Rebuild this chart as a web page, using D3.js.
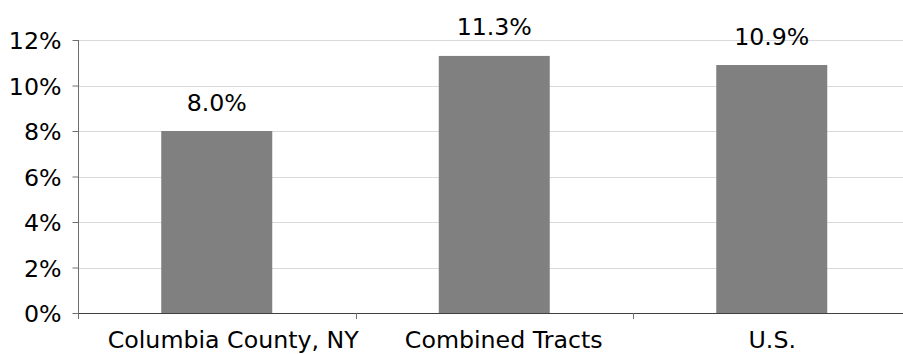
<!DOCTYPE html>
<html>
<head>
<meta charset="utf-8">
<script src="https://cdn.jsdelivr.net/npm/d3@7"></script>
<style>
  html, body { margin: 0; padding: 0; background: #fff; }
  svg { display: block; }
  text { font-family: "DejaVu Sans", sans-serif; fill: #000; }
</style>
</head>
<body>
<svg id="chart" width="903" height="354"></svg>
<script>
const categories = ["Columbia County, NY", "Combined Tracts", "U.S."];
const values = [8.0, 11.3, 10.9];
const valueLabels = ["8.0%", "11.3%", "10.9%"];
const yTicks = [0, 2, 4, 6, 8, 10, 12];
const yTickLabels = ["0%", "2%", "4%", "6%", "8%", "10%", "12%"];

const svg = d3.select("#chart");
const plotLeft = 78, plotRight = 910.5, plotTop = 40, plotBottom = 313;
const fontSize = 23.7;
// horizontal nudges for the category labels
const categoryLabelShift = [16.5, 9.5, 0.5];

const x = d3.scaleBand()
  .domain(categories)
  .range([plotLeft, plotRight])
  .paddingInner(0.6)
  .paddingOuter(0.3);

const y = d3.scaleLinear().domain([0, 12]).range([plotBottom, plotTop]);

// horizontal gridlines
svg.append("g")
  .selectAll("line")
  .data(yTicks.filter(d => d > 0))
  .join("line")
  .attr("x1", plotLeft).attr("x2", plotRight)
  .attr("y1", d => Math.round(y(d)) + 0.5)
  .attr("y2", d => Math.round(y(d)) + 0.5)
  .attr("stroke", "#d9d9d9")
  .attr("stroke-width", 1);

// bars
svg.append("g")
  .selectAll("rect")
  .data(values)
  .join("rect")
  .attr("x", (d, i) => x(categories[i]))
  .attr("width", x.bandwidth())
  .attr("y", d => y(d))
  .attr("height", d => plotBottom - y(d))
  .attr("fill", "#808080");

// value labels
svg.append("g")
  .selectAll("text")
  .data(values)
  .join("text")
  .attr("x", (d, i) => x(categories[i]) + x.bandwidth() / 2)
  .attr("y", d => y(d) - 20.5)
  .attr("text-anchor", "middle")
  .attr("font-size", fontSize)
  .text((d, i) => valueLabels[i]);

// y axis
const yAxis = d3.axisLeft(y)
  .tickValues(yTicks)
  .tickFormat((d, i) => yTickLabels[i])
  .tickSize(6)
  .tickPadding(11);

const gy = svg.append("g")
  .attr("transform", `translate(${plotLeft + 0.5},0)`)
  .call(yAxis);
gy.select(".domain").attr("stroke", "#6e6e6e").attr("d", `M0,${plotTop}V${plotBottom}`);
gy.selectAll(".tick line").attr("stroke", "#6e6e6e");
gy.selectAll(".tick text").attr("font-size", fontSize).attr("font-family", "DejaVu Sans").attr("fill", "#000").attr("dy", "0.36em");

// x axis with ticks between categories
const step = x.step();
const boundaries = [0, 1, 2, 3].map(i => plotLeft + i * step);
const gx = svg.append("g");
gx.append("line")
  .attr("x1", plotLeft).attr("x2", plotRight)
  .attr("y1", plotBottom + 0.5).attr("y2", plotBottom + 0.5)
  .attr("stroke", "#404040");
gx.selectAll(".xtick")
  .data(boundaries)
  .join("line")
  .attr("class", "xtick")
  .attr("x1", d => Math.round(d) + 0.5).attr("x2", d => Math.round(d) + 0.5)
  .attr("y1", plotBottom).attr("y2", plotBottom + 6)
  .attr("stroke", "#6e6e6e");
gx.selectAll("text")
  .data(categories)
  .join("text")
  .attr("x", (d, i) => x(d) + x.bandwidth() / 2 + categoryLabelShift[i])
  .attr("y", 348)
  .attr("text-anchor", "middle")
  .attr("font-size", fontSize)
  .text(d => d);
</script>
</body>
</html>
